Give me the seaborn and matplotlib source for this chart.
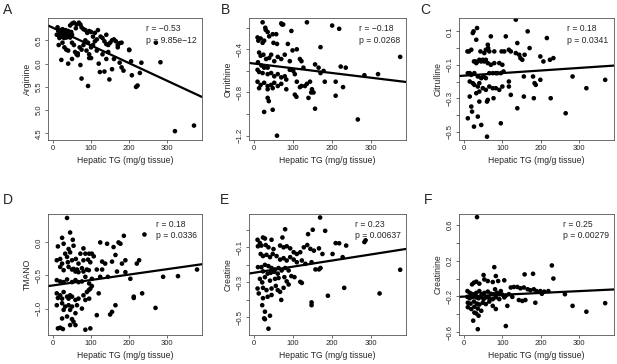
import matplotlib
matplotlib.use("Agg")
import matplotlib.pyplot as plt
import seaborn as sns
import pandas as pd

# --- Data (Hepatic TG vs metabolite, per panel) ---
tg_a = [10, 12, 14, 15, 17, 18, 20, 21, 22, 24, 25, 26, 28, 29, 30, 31, 33, 34, 35, 36, 38, 39, 40, 41, 42, 44, 45, 47, 48, 50,
        45, 50, 55, 62, 68, 72, 75, 60, 80, 85, 90, 95, 100, 110, 118, 105,
        15, 25, 30, 35, 40, 50, 55, 58, 62, 65, 70, 75, 80, 85, 88, 92, 95, 100, 105, 110, 115, 130, 135, 140, 145, 150, 160, 165, 170, 175, 200, 270,
        22, 40, 50, 65, 72, 75, 92, 95, 100, 120, 123, 135, 140, 148, 155, 160, 175, 180, 185, 200, 205, 207, 218, 222, 228, 232, 282, 320, 370,
        130, 145, 115, 170, 155, 125, 140, 180]
arginine = [6.62, 6.78, 6.70, 6.60, 6.55, 6.66, 6.72, 6.62, 6.68, 6.58, 6.74, 6.64, 6.70, 6.55, 6.60, 6.66, 6.72, 6.62, 6.56, 6.68, 6.64, 6.58, 6.70, 6.62, 6.66, 6.60, 6.56, 6.64, 6.68, 6.62,
            6.82, 6.86, 6.88, 6.84, 6.88, 6.84, 6.78, 6.76, 6.74, 6.72, 6.66, 6.70, 6.68, 6.66, 6.72, 6.58,
            6.40, 6.45, 6.35, 6.30, 6.28, 6.45, 6.40, 6.25, 6.20, 6.22, 6.35, 6.30, 6.40, 6.50, 6.28, 6.45, 6.20, 6.35, 6.40, 6.48, 6.52, 6.55, 6.48, 6.42, 6.40, 6.45, 6.52, 6.48, 6.40, 6.44, 6.30, 6.45,
            6.08, 6.00, 6.10, 6.18, 5.97, 5.68, 5.52, 6.12, 6.12, 6.00, 5.82, 5.83, 6.10, 5.66, 5.88, 6.10, 6.02, 5.92, 5.85, 6.29, 6.05, 5.75, 5.50, 5.53, 5.80, 6.02, 6.03, 4.55, 4.67,
            6.20, 6.25, 6.28, 6.35, 6.50, 6.58, 6.62, 6.45]

tg_b = [22, 30, 35, 29, 48, 57, 70, 72, 75, 96, 136, 201, 219, 9, 11, 17, 22, 26, 39, 50, 59, 87, 99, 110, 171, 376,
        13, 17, 24, 31, 39, 44, 52, 61, 70, 79, 92, 10, 19, 26, 35, 9, 13, 22, 35, 44, 52, 61, 70, 79, 83,
        92, 101, 105, 118, 122, 127, 157, 166, 179, 171, 223, 236, 284, 319,
        9, 17, 26, 35, 44, 52, 61, 70, 83, 48, 35, 13, 110, 118, 122, 105, 109, 131, 136, 144, 149, 153, 147, 140, 182, 210, 229, 210, 157,
        35, 38, 26, 48, 267, 59]
ornithine = [-0.15, -0.22, -0.24, -0.20, -0.26, -0.26, -0.16, -0.17, -0.17, -0.23, -0.15, -0.18, -0.21,
             -0.29, -0.32, -0.30, -0.34, -0.32, -0.28, -0.34, -0.35, -0.35, -0.41, -0.40, -0.38, -0.47,
             -0.43, -0.46, -0.45, -0.49, -0.48, -0.45, -0.51, -0.47, -0.49, -0.45, -0.51, -0.52, -0.55, -0.57, -0.57,
             -0.59, -0.61, -0.62, -0.63, -0.62, -0.65, -0.63, -0.66, -0.65, -0.68,
             -0.59, -0.60, -0.63, -0.49, -0.51, -0.57, -0.54, -0.57, -0.60, -0.62, -0.56, -0.57, -0.64, -0.63,
             -0.70, -0.73, -0.71, -0.74, -0.73, -0.71, -0.74, -0.72, -0.77, -0.76, -0.77, -0.76,
             -0.70, -0.75, -0.74, -0.82, -0.84, -0.74, -0.72, -0.70, -0.77, -0.80, -0.80, -0.85, -0.70, -0.70, -0.75, -0.83, -0.95,
             -0.85, -0.88, -0.98, -0.96, -1.05, -1.20]

tg_c = [23, 25, 34, 32, 135, 166, 216, 109, 70, 139, 62, 63,
        9, 13, 19, 43, 53, 57, 66, 79, 98, 105, 117, 122, 135, 144, 147, 152, 158, 171, 199, 207, 224, 233,
        26, 29, 32, 36, 40, 45, 49, 53, 57, 62, 70, 79, 92, 100,
        10, 15, 19, 27, 36, 45, 51, 57, 66, 75, 83, 87, 96, 103,
        15, 23, 27, 36, 40, 49, 57, 66, 75, 83, 92, 100, 117, 117, 156, 180, 184, 199, 187,
        32, 40, 15, 40, 60, 62, 77, 122, 156, 182, 226, 283, 319, 368, 265, 19, 21, 10, 36, 26, 45, 60, 96, 139]
citrulline = [0.09, 0.10, 0.12, 0.05, 0.17, 0.10, 0.06, 0.07, 0.07, 0.03, 0.02, 0.00,
              -0.02, -0.02, -0.01, -0.02, -0.03, -0.01, -0.02, -0.02, -0.02, -0.02, -0.01, -0.02, -0.03, -0.04, -0.06, -0.07, -0.04, 0.00, -0.05, -0.08, -0.07, -0.06,
              -0.08, -0.08, -0.09, -0.08, -0.07, -0.08, -0.07, -0.08, -0.07, -0.09, -0.10, -0.09, -0.09, -0.10,
              -0.15, -0.15, -0.16, -0.15, -0.17, -0.18, -0.17, -0.18, -0.15, -0.15, -0.15, -0.15, -0.15, -0.14,
              -0.20, -0.21, -0.22, -0.23, -0.21, -0.24, -0.25, -0.23, -0.24, -0.24, -0.25, -0.23, -0.20, -0.23, -0.17, -0.17, -0.21, -0.19, -0.22,
              -0.27, -0.26, -0.29, -0.32, -0.32, -0.31, -0.30, -0.28, -0.29, -0.30, -0.30, -0.17, -0.24, -0.19, -0.39, -0.35, -0.38, -0.42, -0.41, -0.47, -0.46, -0.53, -0.45, -0.36]

tg_d = [37, 45, 52, 24, 28, 13, 54, 41, 32, 45, 60, 72, 80, 85,
        10, 19, 24, 37, 39, 50, 67, 80, 92, 98, 102, 107, 124, 129, 137, 142, 155, 159, 164, 172, 177, 186, 190, 181, 220, 226, 240, 95,
        19, 28, 41, 50, 54, 59, 63, 67, 76, 80, 89, 94, 115, 129, 190, 203, 378,
        10, 19, 28, 37, 50, 59, 67, 76, 85, 95, 102, 124, 144, 168, 289, 328,
        10, 19, 28, 37, 45, 13, 24, 41, 50, 59, 67, 80, 89, 94, 98, 102, 95, 85, 120, 234, 212,
        10, 24, 32, 41, 50, 63, 76, 45, 28, 59, 24, 37, 50, 54, 19, 45, 59, 150, 155, 164, 115, 269, 212, 85, 98, 13, 26]
tmano = [0.37, 0.15, 0.04, 0.07, -0.02, -0.06, -0.05, -0.10, -0.17, -0.15, -0.25, -0.17, -0.09, -0.17,
         -0.27, -0.25, -0.32, -0.22, -0.30, -0.27, -0.32, -0.27, -0.26, -0.30, -0.17, -0.21, 0.00, -0.29, -0.32, -0.02, -0.29, -0.07, -0.19, 0.00, -0.02, 0.10, -0.27, -0.32, -0.32, -0.27, 0.12, -0.17,
         -0.37, -0.42, -0.37, -0.41, -0.40, -0.44, -0.41, -0.45, -0.39, -0.44, -0.41, -0.42, -0.41, -0.41, -0.45, -0.55, -0.41,
         -0.57, -0.59, -0.60, -0.56, -0.60, -0.57, -0.60, -0.59, -0.52, -0.62, -0.55, -0.52, -0.52, -0.44, -0.52, -0.51,
         -0.77, -0.80, -0.75, -0.82, -0.80, -0.84, -0.85, -0.85, -0.82, -0.87, -0.85, -0.80, -0.75, -0.72, -0.70, -0.66, -0.85, -0.87, -0.77, -0.77, -0.82,
         -0.95, -0.92, -0.97, -0.95, -0.97, -0.95, -1.00, -1.02, -1.02, -1.07, -1.15, -1.12, -1.16, -1.20, -1.29, -1.25, -1.25, -1.09, -1.05, -0.95, -1.10, -0.99, -0.84, -1.32, -1.30, -1.30, -1.31]

tg_e = [170, 80, 151, 183, 23, 28, 9, 45, 73, 139, 210, 219, 237, 284, 287,
        10, 19, 37, 50, 67, 76, 84, 93, 102, 110, 119, 128, 137, 145, 154, 167, 176, 202, 228,
        17, 23, 32, 41, 48, 58, 67, 76, 84, 93, 102, 110, 123, 132, 148, 158, 167, 171,
        10, 19, 28, 37, 45, 54, 63, 71, 80, 89, 23, 35, 43, 52, 61,
        15, 21, 28, 41, 54, 63, 78, 84, 96, 104, 119, 123,
        9, 12, 23, 32, 45, 56, 61, 67, 76, 89, 45, 35, 23, 21, 28, 41, 26, 28, 37, 232, 190, 148, 148, 323, 376, 70, 15, 30]
creatine = [0.07, 0.003, 0.0, -0.006, -0.044, -0.05, -0.057, -0.057, -0.044, -0.025, -0.076, -0.077, -0.09, -0.07, -0.06,
            -0.094, -0.09, -0.10, -0.11, -0.09, -0.10, -0.094, -0.106, -0.128, -0.138, -0.128, -0.10, -0.087, -0.109, -0.119, -0.106, -0.138, -0.138, -0.156,
            -0.138, -0.15, -0.143, -0.156, -0.138, -0.15, -0.17, -0.162, -0.175, -0.156, -0.17, -0.185, -0.175, -0.194, -0.185, -0.226, -0.226, -0.218,
            -0.213, -0.213, -0.2, -0.207, -0.218, -0.226, -0.218, -0.232, -0.218, -0.232, -0.237, -0.25, -0.245, -0.24, -0.25,
            -0.28, -0.30, -0.27, -0.29, -0.28, -0.275, -0.27, -0.294, -0.264, -0.27, -0.297, -0.303,
            -0.335, -0.363, -0.331, -0.344, -0.335, -0.32, -0.344, -0.354, -0.331, -0.312, -0.372, -0.382, -0.39, -0.43, -0.467, -0.49, -0.505, -0.51, -0.564,
            -0.331, -0.376, -0.414, -0.43, -0.363, -0.228, -0.40, -0.075, -0.087]

tg_f = [34, 79, 229, 233, 180, 158, 83, 51, 53, 32, 26, 21, 40, 62, 75, 89, 105,
        81, 96, 122, 130, 139, 147, 156, 166, 173, 182, 189, 199, 209, 220, 203, 263,
        9, 15, 19, 27, 32, 40, 46, 53, 62, 70, 77, 86, 92, 100, 109, 117, 126,
        9, 15, 23, 32, 38, 45, 51, 57, 66, 75, 83, 92, 105, 143, 152, 160,
        10, 17, 26, 34, 40, 49, 57, 66, 75, 83, 113, 186,
        10, 19, 27, 36, 45, 27, 32, 38, 24, 36, 109, 283, 319, 368]
creatinine = [0.685, 0.127, 0.146, 0.0, 0.053, 0.046, 0.028, 0.039, -0.01, -0.035, -0.046, -0.065, -0.057, -0.028, -0.039, -0.028, -0.02,
              -0.12, -0.14, -0.10, -0.094, -0.094, -0.109, -0.10, -0.12, -0.13, -0.12, -0.14, -0.14, -0.146, -0.14, -0.17, -0.175,
              -0.14, -0.16, -0.17, -0.175, -0.16, -0.14, -0.175, -0.16, -0.146, -0.17, -0.175, -0.16, -0.175, -0.18, -0.19, -0.175, -0.205,
              -0.205, -0.22, -0.205, -0.21, -0.22, -0.205, -0.23, -0.21, -0.22, -0.23, -0.21, -0.23, -0.21, -0.24, -0.25, -0.24,
              -0.27, -0.28, -0.257, -0.28, -0.29, -0.27, -0.285, -0.257, -0.305, -0.34, -0.305, -0.27,
              -0.32, -0.34, -0.315, -0.335, -0.36, -0.38, -0.39, -0.415, -0.47, -0.565, -0.53, -0.305, -0.37, -0.275]

panel_letters = ["A", "B", "C", "D", "E", "F"]
metabolite_names = ["Arginine", "Ornithine", "Citrulline", "TMANO", "Creatine", "Creatinine"]
tg_values = [tg_a, tg_b, tg_c, tg_d, tg_e, tg_f]
metabolite_values = [arginine, ornithine, citrulline, tmano, creatine, creatinine]

# fitted regression lines (intercept, slope) as drawn in the reference
fit_intercepts = [6.77, -0.532, -0.165, -0.65, -0.245, -0.2015]
fit_slopes = [-0.0038, -0.000436, 0.000154, 0.00082, 0.000347, 0.000204]
r_values = ["\u22120.53", "\u22120.18", "0.18", "0.18", "0.23", "0.25"]
p_values = ["9.85e\u221212", "0.0268", "0.0341", "0.0336", "0.00637", "0.00279"]

y_limits = [(4.36, 6.98), (-1.24, -0.11), (-0.55, 0.18), (-1.40, 0.43), (-0.60, 0.09), (-0.63, 0.72)]
y_ticks = [[4.5, 5.0, 5.5, 6.0, 6.5],
           [-1.2, -1.0, -0.8, -0.6, -0.4, -0.2],
           [-0.5, -0.4, -0.3, -0.2, -0.1, 0.0, 0.1],
           [-1.0, -0.5, 0.0],
           [-0.5, -0.4, -0.3, -0.2, -0.1, 0.0],
           [-0.6, -0.4, -0.2, 0.0, 0.2, 0.4, 0.6]]
y_ticklabels = [["4.5", "5.0", "5.5", "6.0", "6.5"],
                ["\u22121.2", "", "\u22120.8", "", "\u22120.4", ""],
                ["\u22120.5", "", "\u22120.3", "", "\u22120.1", "", "0.1"],
                ["\u22121.0", "\u22120.5", "0.0"],
                ["\u22120.5", "", "\u22120.3", "", "\u22120.1", ""],
                ["\u22120.6", "", "\u22120.2", "", "0.2", "", "0.6"]]
x_ticks = [0, 100, 200, 300]

# --- Style ---
sns.set_style("ticks")
plt.rcParams['font.family'] = ['Liberation Sans', 'DejaVu Sans']

W, H = 617, 364
fig = plt.figure(figsize=(W / 100, H / 100), dpi=100)

# axes boxes in pixels: (left, right) per column, (top, bottom) per row
col_edges = [(48, 202), (249, 406), (459, 614)]
row_edges = [(18, 140), (214, 335)]
letter_pos = [(3, 3), (221, 3), (420, 3), (3, 193), (220, 193), (424, 193)]

for i in range(6):
    r, c = divmod(i, 3)
    left, right = col_edges[c]
    top, bottom = row_edges[r]
    ax = fig.add_axes([left / W, 1 - bottom / H, (right - left) / W, (bottom - top) / H])

    df = pd.DataFrame({"tg": tg_values[i], "y": metabolite_values[i]})
    sns.scatterplot(data=df, x="tg", y="y", ax=ax, color="black", s=11,
                    linewidth=0, edgecolor="none")
    ax.axline((0, fit_intercepts[i]), slope=fit_slopes[i], color="black", linewidth=1.6)

    ax.set_xlim(-13, 391)
    ax.set_ylim(*y_limits[i])
    ax.set_xticks(x_ticks)
    ax.set_xticklabels([str(t) for t in x_ticks])
    ax.set_yticks(y_ticks[i])
    ax.set_yticklabels(y_ticklabels[i], rotation=90, va="center")
    ax.tick_params(axis="both", labelsize=5.5, length=2.2, width=0.5, pad=1.5, color="#333333")
    ax.set_xlabel("Hepatic TG (mg/g tissue)", fontsize=6.2, labelpad=3)
    ax.set_ylabel(metabolite_names[i], fontsize=6.2, labelpad=3)
    for s in ax.spines.values():
        s.set_visible(True)
        s.set_linewidth(0.6)
        s.set_color("#555555")

    ax.text(0.965, 0.95, f"r = {r_values[i]}\np = {p_values[i]}", transform=ax.transAxes,
            ha="right", va="top", multialignment="left", fontsize=6.2, linespacing=1.35)

    lx, ly = letter_pos[i]
    fig.text(lx / W, 1 - ly / H, panel_letters[i], fontsize=10, ha="left", va="top")

fig.savefig("out.png", dpi=100)
